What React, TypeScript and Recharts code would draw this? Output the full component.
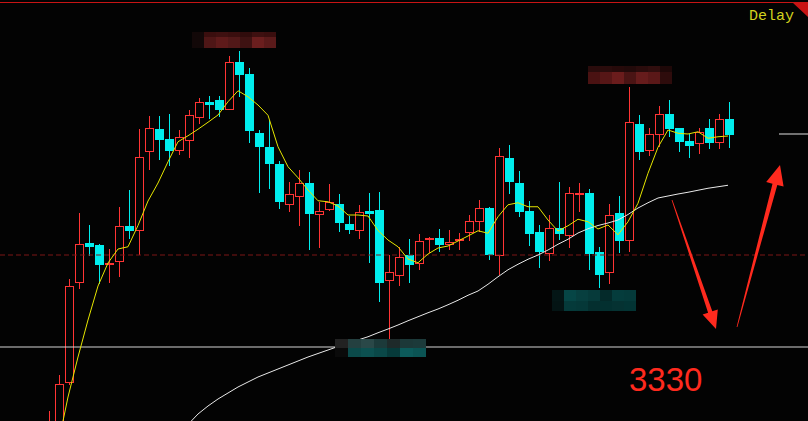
import React from 'react';
import { ComposedChart, Bar, Line, XAxis, YAxis, ReferenceLine } from 'recharts';

const W = 808;
const H = 421;

const RED = '#ff3434';
const CYAN = '#00eeee';

// OHLC per bar, oldest first
const OPEN = [
  3290.8, 3296.8, 3315.5, 3355.5, 3371.7, 3370.8, 3362.9, 3363.9, 3378.4, 3376.5,
  3408.1, 3417.2, 3413.2, 3408.5, 3412.5, 3421.7, 3428.0, 3428.8, 3424.9, 3444.0,
  3439.2, 3415.6, 3410.0, 3403.2, 3386.7, 3389.9, 3395.6, 3382.7, 3384.9, 3387.2,
  3379.2, 3376.5, 3384.3, 3384.8, 3356.5, 3358.5, 3366.8, 3363.1, 3372.7, 3373.6,
  3370.9, 3372.5, 3375.7, 3380.1, 3385.6, 3366.5, 3405.6, 3395.6, 3384.5, 3376.0,
  3367.3, 3377.6, 3374.5, 3390.8, 3391.6, 3368.1, 3359.5, 3383.6, 3372.5, 3419.2,
  3408.5, 3414.9, 3423.2, 3417.6, 3412.4, 3411.3, 3417.6, 3411.7, 3421.2,
];
const HIGH = [
  3304.4, 3318.8, 3357.2, 3383.6, 3378.8, 3371.2, 3369.2, 3386.0, 3392.8, 3417.2,
  3422.4, 3422.4, 3423.2, 3416.8, 3424.8, 3429.6, 3430.4, 3430.4, 3446.4, 3448.4,
  3441.6, 3416.8, 3420.8, 3404.4, 3396.0, 3400.8, 3400.0, 3388.1, 3395.2, 3391.2,
  3382.4, 3386.8, 3391.6, 3392.0, 3366.8, 3370.0, 3373.2, 3375.2, 3374.0, 3377.3,
  3376.9, 3375.6, 3382.9, 3388.8, 3386.1, 3409.7, 3410.8, 3400.4, 3388.4, 3378.8,
  3382.8, 3396.0, 3394.0, 3395.6, 3393.2, 3370.1, 3387.2, 3390.4, 3434.0, 3422.8,
  3417.6, 3426.4, 3428.8, 3417.6, 3415.2, 3417.6, 3421.2, 3423.2, 3428.0,
];
const LOW = [
  3288.8, 3294.8, 3314.8, 3353.2, 3366.4, 3355.2, 3355.7, 3358.1, 3373.2, 3366.8,
  3400.8, 3404.8, 3402.4, 3406.8, 3405.7, 3419.2, 3421.2, 3422.1, 3424.8, 3430.1,
  3411.7, 3391.7, 3393.3, 3385.3, 3384.1, 3378.5, 3368.8, 3369.6, 3384.3, 3376.1,
  3375.3, 3373.2, 3363.7, 3348.1, 3333.2, 3354.5, 3355.7, 3360.9, 3367.6, 3368.1,
  3368.9, 3368.9, 3372.5, 3376.1, 3364.9, 3358.9, 3391.3, 3382.1, 3370.5, 3361.7,
  3364.5, 3372.9, 3369.7, 3384.1, 3360.9, 3353.7, 3355.3, 3367.7, 3368.1, 3404.9,
  3406.5, 3410.1, 3414.1, 3408.1, 3405.7, 3407.3, 3409.3, 3409.3, 3409.7,
];
const CLOSE = [
  3299.2, 3315.1, 3354.4, 3371.2, 3370.1, 3362.8, 3363.6, 3378.4, 3376.5, 3405.9,
  3417.6, 3412.8, 3408.4, 3414.0, 3422.8, 3428.0, 3426.8, 3424.8, 3444.0, 3438.9,
  3416.5, 3410.1, 3403.3, 3388.1, 3391.2, 3395.5, 3383.3, 3384.3, 3388.0, 3379.7,
  3376.9, 3383.9, 3383.3, 3355.7, 3359.9, 3366.0, 3362.9, 3372.4, 3373.6, 3370.9,
  3371.9, 3373.3, 3380.4, 3385.6, 3366.9, 3406.4, 3396.1, 3384.1, 3375.3, 3368.1,
  3377.6, 3375.3, 3391.6, 3391.6, 3367.3, 3358.9, 3382.8, 3372.5, 3420.0, 3408.1,
  3415.2, 3423.2, 3417.3, 3412.1, 3410.5, 3416.0, 3411.7, 3421.2, 3414.9,
];

// moving averages (yellow = fast, white = slow)
const MA_FAST = [
  null, 3290.8, 3310.0, 3326.0, 3340.8, 3354.4, 3363.6, 3369.2, 3370.1, 3378.6,
  3388.4, 3395.6, 3404.1, 3412.1, 3414.5, 3417.1, 3419.9, 3422.8, 3428.1, 3432.5,
  3430.1, 3426.8, 3422.7, 3410.1, 3402.1, 3397.7, 3392.8, 3388.5, 3388.1, 3386.4,
  3382.8, 3382.8, 3382.4, 3376.6, 3372.8, 3370.1, 3365.2, 3363.7, 3367.2, 3369.6,
  3370.4, 3372.4, 3374.4, 3376.5, 3375.5, 3382.1, 3386.9, 3387.7, 3386.1, 3386.1,
  3380.8, 3376.4, 3378.5, 3381.1, 3380.1, 3377.2, 3378.8, 3374.9, 3380.1, 3387.5,
  3399.5, 3409.9, 3416.8, 3415.5, 3415.2, 3416.1, 3413.5, 3414.1, 3414.4,
];
const MA_SLOW = [
  null, null, null, null, null, null, null, null, null, null,
  null, null, null, null, 3299.0, 3303.2, 3306.4, 3309.2, 3311.6, 3314.0,
  3316.0, 3318.0, 3319.6, 3321.2, 3322.8, 3324.4, 3326.0, 3327.4, 3328.8, 3330.2,
  3331.6, 3332.8, 3334.1, 3335.7, 3337.2, 3338.8, 3340.5, 3342.1, 3343.7, 3345.2,
  3346.9, 3348.7, 3350.7, 3352.4, 3355.1, 3358.1, 3360.9, 3363.1, 3365.1, 3366.8,
  3368.8, 3371.1, 3373.1, 3375.6, 3377.3, 3378.6, 3379.6, 3380.8, 3383.0, 3385.6,
  3387.7, 3389.6, 3390.4, 3391.2, 3391.9, 3392.7, 3393.5, 3394.1, 3394.7,
];

const PRICE_MIN = 3300.4;
const PRICE_MAX = 3468.8;
const SUPPORT = 3330;
const DASH_LEVEL = 3366.8;
const MARK_LEVEL = 3415.2;

const data = OPEN.map((open, i) => ({
  i,
  open,
  high: HIGH[i],
  low: LOW[i],
  close: CLOSE[i],
  range: [LOW[i], HIGH[i]],
  maFast: MA_FAST[i],
  maSlow: MA_SLOW[i],
}));

// hollow red for up bars, solid cyan for down bars
function Candle(props: any) {
  const { x, y, width, height, payload } = props;
  if (x == null || !payload) return null;
  const { open, close, high, low } = payload;
  const top = Math.min(y, y + height);
  const h = Math.abs(height);
  const toY = (v: number) => top + ((high - v) / (high - low)) * h;
  const cx = Math.round(x + width / 2);
  const yHigh = Math.round(toY(high));
  const yLow = Math.round(toY(low));
  const yT = Math.round(toY(Math.max(open, close)));
  const yB = Math.round(toY(Math.min(open, close)));

  if (close >= open) {
    // outline drawn as filled 1px strips so it stays solid red
    const bh = Math.max(yB - yT, 1);
    return (
      <g shapeRendering="crispEdges" fill={RED}>
        <rect x={cx} y={yHigh} width={1} height={Math.max(yT - yHigh, 0)} />
        <rect x={cx} y={yB} width={1} height={Math.max(yLow - yB, 0)} />
        <rect x={cx - 4} y={yT} width={9} height={1} />
        <rect x={cx - 4} y={yT + bh - 1} width={9} height={1} />
        <rect x={cx - 4} y={yT} width={1} height={bh} />
        <rect x={cx + 4} y={yT} width={1} height={bh} />
      </g>
    );
  }
  return (
    <g shapeRendering="crispEdges" fill={CYAN}>
      <rect x={cx} y={yHigh} width={1} height={Math.max(yLow - yHigh, 1)} />
      <rect x={cx - 4} y={yT} width={9} height={Math.max(yB - yT, 1)} />
    </g>
  );
}

// short level marker at the right edge
function EdgeMark(props: any) {
  const { x1, x2, y1 } = props;
  const right = Math.max(x1, x2);
  return <line x1={right - 29} x2={right} y1={y1} y2={y1} stroke="#e0e0e0" strokeWidth={1} />;
}

// pixelated masks over the hidden price tags
const MASKS = [
  { x: 192, y: 32, cw: 12, rows: [5, 11], colors: [
    ['#120808', '#3a0e0e', '#3e1010', '#3a0e0e', '#300c0c', '#3e1010', '#3a0e0e'],
    ['#120808', '#4e1616', '#5e1a1a', '#521818', '#3e1212', '#6a1e1e', '#5a1a1a'],
  ] },
  { x: 588, y: 66, cw: 12, rows: [6, 12], colors: [
    ['#2a0c0c', '#2a0c0c', '#260a0a', '#220a0a', '#2a0c0c', '#300e0e', '#1e0808'],
    ['#4a1212', '#561616', '#6a1c1c', '#4a1414', '#661c1c', '#5a1818', '#2e0c0c'],
  ] },
  { x: 335, y: 339, cw: 13, rows: [9, 9], colors: [
    ['#222222', '#244040', '#2a4848', '#1c3a3a', '#1e2a2a', '#1c3838', '#1c3a3a'],
    ['#0a0a0a', '#0b4a4a', '#0c5050', '#0a4848', '#063a3a', '#0c5a5a', '#0b5454'],
  ] },
  { x: 552, y: 290, cw: 12, rows: [11, 10], colors: [
    ['#041616', '#064646', '#073f3f', '#063a3a', '#042a2a', '#053c3c', '#053a3a'],
    ['#041414', '#053a3a', '#053838', '#042f2f', '#033030', '#053232', '#033434'],
  ] },
];

function Overlay() {
  return (
    <svg width={W} height={H} style={{ position: 'absolute', left: 0, top: 0, pointerEvents: 'none' }}>
      {MASKS.map((m, k) => (
        <g key={k} shapeRendering="crispEdges">
          {m.colors.map((row, r) =>
            row.map((c, j) => (
              <rect
                key={`${r}-${j}`}
                x={m.x + j * m.cw}
                y={m.y + (r === 0 ? 0 : m.rows[0])}
                width={m.cw}
                height={m.rows[r]}
                fill={c}
              />
            ))
          )}
        </g>
      ))}

      {/* frame + corner flag */}
      <rect x={0} y={2} width={W} height={1} fill="#c81414" shapeRendering="crispEdges" />
      <polygon points="792,2 808,2 808,17" fill="#c81414" />
      <text x={749} y={20} fill="#d2d21e" fontSize={15} fontFamily="'Liberation Mono', monospace">
        Delay
      </text>

      {/* hand-drawn arrows */}
      <polygon
        points="672.4,199.9 712.3,311.3 717.8,309.4 716,329 702.6,314.6 708.1,312.7 671.6,200.1"
        fill="#ff2a1e"
      />
      <polygon
        points="737.4,327.1 777.3,184.9 783.6,186.6 780,165 766.2,182 772.5,183.7 736.6,326.9"
        fill="#ff2a1e"
      />
      <text x={629} y={391} fill="#ff2a1e" fontSize={33} fontFamily="'Liberation Sans', Arial, sans-serif">
        {SUPPORT}
      </text>
    </svg>
  );
}

export default function App() {
  return (
    <div style={{ position: 'absolute', left: 0, top: 0, width: W, height: H, background: '#030303', overflow: 'hidden' }}>
      <ComposedChart width={W} height={H} data={data} margin={{ top: 0, right: 0, bottom: 0, left: 0 }}>
        <XAxis dataKey="i" hide padding={{ left: 43, right: 75 }} />
        <YAxis hide domain={[PRICE_MIN, PRICE_MAX]} allowDataOverflow />
        <ReferenceLine y={SUPPORT} stroke="#d4d4d4" strokeWidth={1} />
        <ReferenceLine y={DASH_LEVEL} stroke="#7c1616" strokeDasharray="5 3" />
        <ReferenceLine y={MARK_LEVEL} shape={EdgeMark} />
        <Bar dataKey="range" barSize={9} shape={Candle} isAnimationActive={false} />
        <Line type="linear" dataKey="maSlow" stroke="#e8e8e8" strokeWidth={1} dot={false} isAnimationActive={false} />
        <Line type="linear" dataKey="maFast" stroke="#e6e600" strokeWidth={1} dot={false} isAnimationActive={false} />
      </ComposedChart>
      <Overlay />
    </div>
  );
}
